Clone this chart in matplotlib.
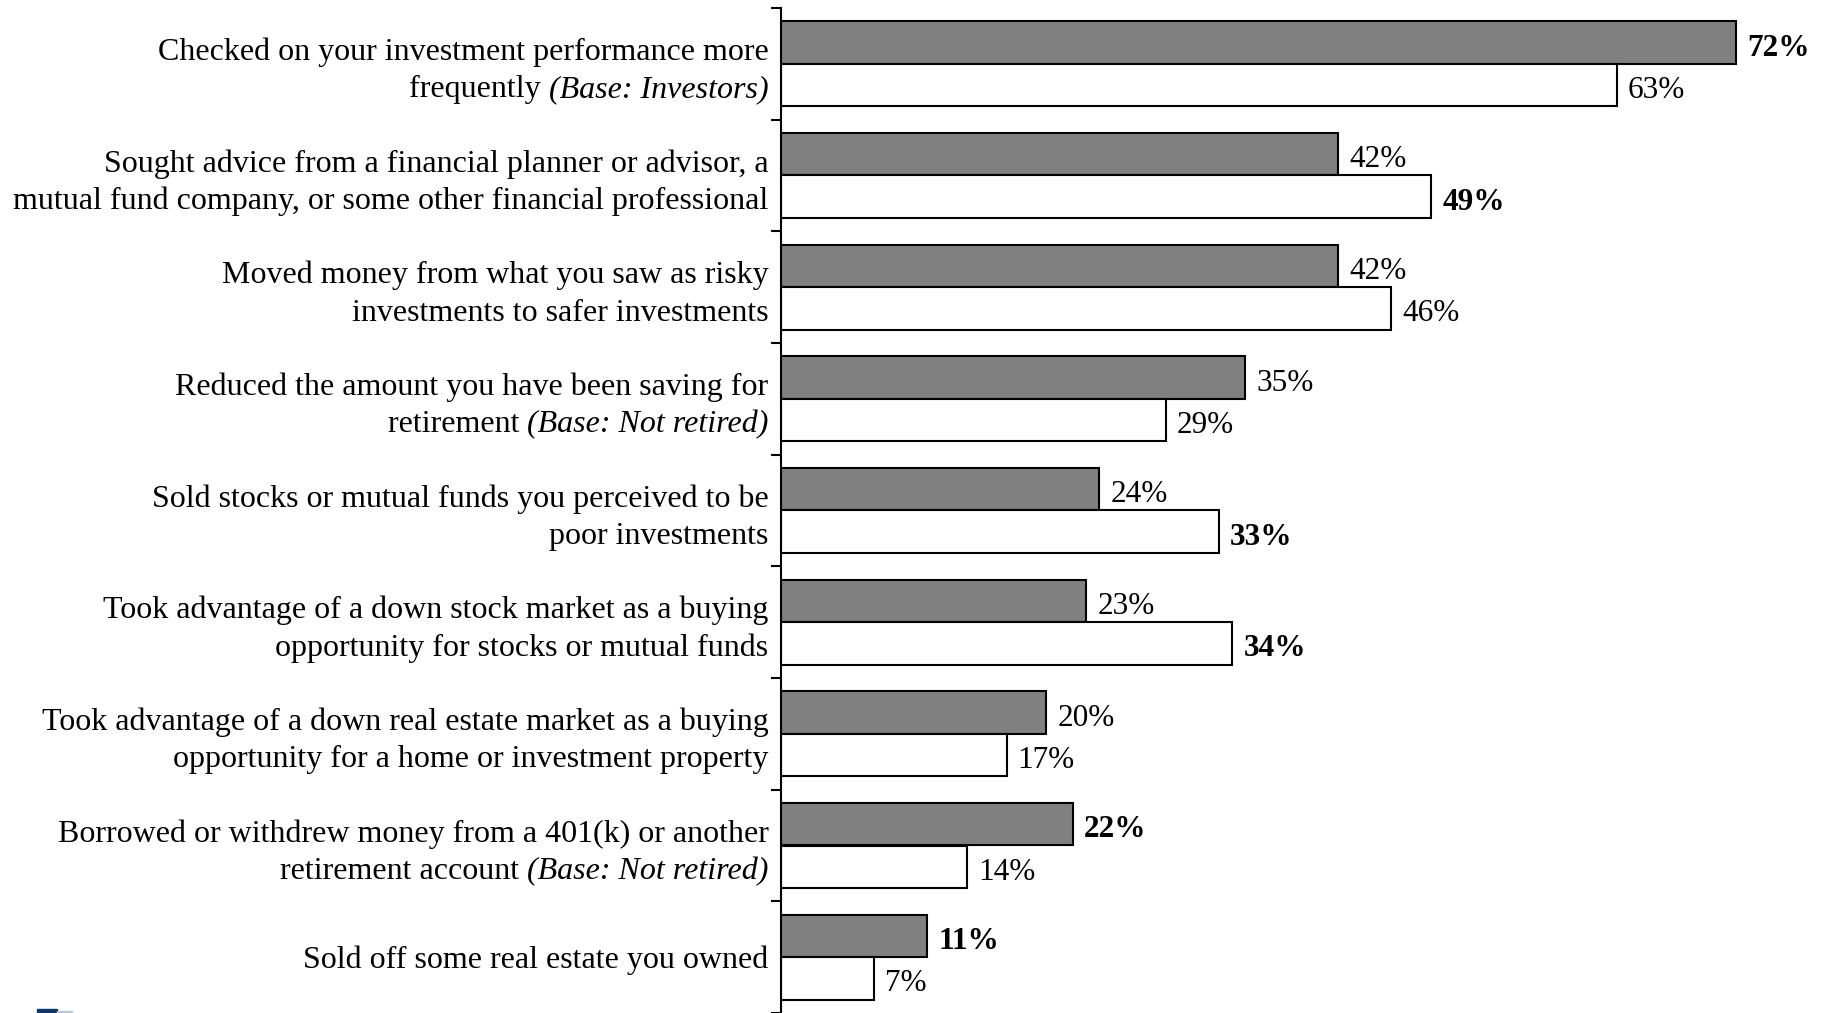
import numpy as np
import matplotlib.pyplot as plt
from matplotlib.patches import Rectangle

plt.rcParams['font.family'] = ['Liberation Serif', 'DejaVu Serif']

# each label is a list of lines, each line a list of (text, italic) pieces
labels = [
    [[("Checked on your investment performance more", False)],
     [("frequently ", False), ("(Base: Investors)", True)]],
    [[("Sought advice from a financial planner or advisor, a", False)],
     [("mutual fund company, or some other financial professional", False)]],
    [[("Moved money from what you saw as risky", False)],
     [("investments to safer investments", False)]],
    [[("Reduced the amount you have been saving for", False)],
     [("retirement ", False), ("(Base: Not retired)", True)]],
    [[("Sold stocks or mutual funds you perceived to be", False)],
     [("poor investments", False)]],
    [[("Took advantage of a down stock market as a buying", False)],
     [("opportunity for stocks or mutual funds", False)]],
    [[("Took advantage of a down real estate market as a buying", False)],
     [("opportunity for a home or investment property", False)]],
    [[("Borrowed or withdrew money from a 401(k) or another", False)],
     [("retirement account ", False), ("(Base: Not retired)", True)]],
    [[("Sold off some real estate you owned", False)]],
]

gray_vals = [72, 42, 42, 35, 24, 23, 20, 22, 11]
white_vals = [63, 49, 46, 29, 33, 34, 17, 14, 7]
gray_bold = [True, False, False, False, False, False, False, True, True]
white_bold = [False, True, False, False, True, True, False, False, False]

fs = 23
vfs = 22.5
fig = plt.figure(figsize=(18.33, 10.13), dpi=100)
ax = fig.add_axes([781 / 1833, 0, 1 - 781 / 1833, 1 - 8 / 1013])

n = len(labels)
y = np.arange(n)
h = 0.38
ax.barh(y - h / 2, gray_vals, height=h, color='#808080', edgecolor='black', linewidth=1.5)
ax.barh(y + h / 2, white_vals, height=h, color='white', edgecolor='black', linewidth=1.5)

for i in range(n):
    ax.annotate(f"{gray_vals[i]}%", xy=(gray_vals[i], y[i] - h / 2), xytext=(8, -4),
                textcoords='offset points', va='center', ha='left', fontsize=vfs,
                fontweight='bold' if gray_bold[i] else 'normal')
    ax.annotate(f"{white_vals[i]}%", xy=(white_vals[i], y[i] + h / 2), xytext=(8, -4),
                textcoords='offset points', va='center', ha='left', fontsize=vfs,
                fontweight='bold' if white_bold[i] else 'normal')

ax.set_xlim(0, (1833 - 781) / 13.27)
ax.set_ylim(-0.5 + (1013 - 8) / 111.9, -0.5)
ax.set_yticks(np.arange(n + 1) - 0.5)
ax.set_yticklabels([])
ax.tick_params(axis='y', direction='out', length=7, width=1.5, left=True)
ax.set_xticks([])
for s in ['top', 'right', 'bottom']:
    ax.spines[s].set_visible(False)
ax.spines['left'].set_linewidth(1.5)

# category labels, right aligned against the axis, italic pieces measured
fig.canvas.draw()
renderer = fig.canvas.get_renderer()
trans = ax.get_yaxis_transform()
pad = 9
for i, lines in enumerate(labels):
    nl = len(lines)
    shift = 0.065 if nl > 1 else 0.03
    for j, pieces in enumerate(lines):
        yy = y[i] + (j - (nl - 1) / 2) * 0.335 + shift
        off = pad
        for txt, it in reversed(pieces):
            t = ax.annotate(txt, xy=(0, yy), xycoords=trans, xytext=(-off, 0),
                            textcoords='offset points', ha='right', va='center',
                            fontsize=fs, style='italic' if it else 'normal')
            w = t.get_window_extent(renderer).width * 72 / fig.dpi
            off += w

# small logo fragment at bottom left
fig.patches.append(Rectangle((37 / 1833, 0), 20 / 1833, 4 / 1013, transform=fig.transFigure,
                             color='#0b3a6b'))
fig.patches.append(Rectangle((57 / 1833, 0), 15 / 1833, 2 / 1013, transform=fig.transFigure,
                             color='#b8c8dc'))

fig.savefig('out.png', dpi=100)
